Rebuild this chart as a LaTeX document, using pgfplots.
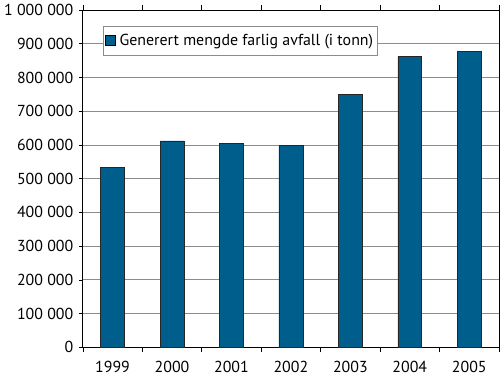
\documentclass[border=0pt]{standalone}
\usepackage{pgfplots}
\pgfplotsset{compat=1.18}
\usepackage{fontspec}
\setmainfont{PT Sans}
\definecolor{barc}{HTML}{005E8C}
\definecolor{gridc}{HTML}{8C8C8C}
\begin{document}
\begin{tikzpicture}
\begin{axis}[
  name=ax,
  scale only axis,
  width=417bp, height=338bp,
  xmin=-0.5, xmax=6.5,
  ymin=0, ymax=1000000,
  ytick={0,100000,200000,300000,400000,500000,600000,700000,800000,900000,1000000},
  yticklabels={0,100 000,200 000,300 000,400 000,500 000,600 000,700 000,800 000,900 000,1 000 000},
  scaled y ticks=false,
  xtick={0,...,6},
  xticklabels={1999,2000,2001,2002,2003,2004,2005},
  minor xtick={-0.5,0.5,...,6.5},
  major x tick style={draw=none},
  minor x tick style={black, line width=0.6pt},
  minor tick length=5bp,
  tick align=outside,
  y tick style={black, line width=0.6pt},
  major tick length=4bp,
  ymajorgrids,
  major grid style={gridc, line width=0.8pt},
  axis line style={black, line width=0.8pt},
  tick label style={font=\fontsize{16}{19}\selectfont},
  yticklabel style={xshift=-2bp},
  xticklabel style={yshift=-6bp},
  ybar, bar width=24bp,
  legend style={at={(0,1)}, anchor=north west, xshift=20bp, yshift=-16bp,
    draw=gridc, line width=0.8pt, fill=white, font=\fontsize{16}{19}\selectfont,
    inner xsep=2bp, inner ysep=6bp},
  legend image code/.code={\draw[fill=barc, draw=black, line width=0.5pt] (-1bp,-5bp) rectangle (9bp,5bp);},
]
\addplot[fill=barc, draw=black!85, line width=0.7pt] coordinates {
  (0,534000) (1,612000) (2,604000) (3,598000) (4,750000) (5,862000) (6,878000)
};
\addlegendentry{\hspace{2bp}Generert mengde farlig avfall (i tonn)}
\end{axis}
\pgfresetboundingbox
\path ([shift={(-83bp,-34bp)}]ax.south west) rectangle ([shift={(1bp,10bp)}]ax.north east);
\end{tikzpicture}
\end{document}
